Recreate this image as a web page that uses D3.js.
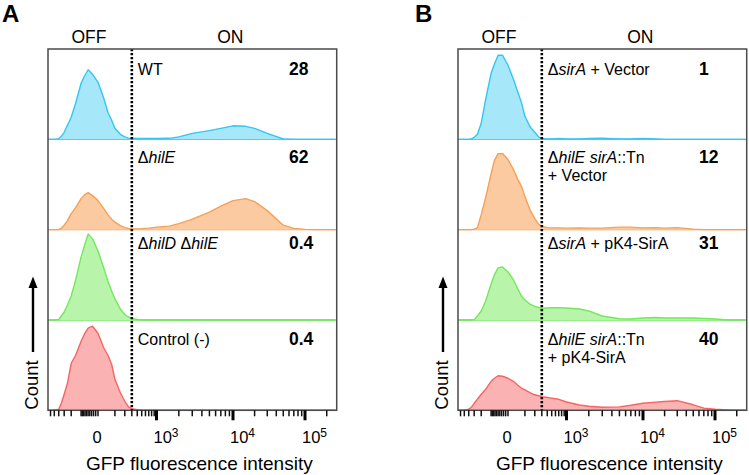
<!DOCTYPE html>
<html><head><meta charset="utf-8">
<script src="https://cdn.jsdelivr.net/npm/d3@7"></script>
<style>
body{margin:0;background:#fff}
svg{display:block}
text{font-family:"Liberation Sans",Arial,Helvetica,sans-serif;fill:#000}
</style>
</head><body>
<svg id="c" width="749" height="475"></svg>
<script>
// ---- DATA ----
// GFP fluorescence values at which histogram heights (counts, arbitrary units) were read
const fluor = [-700,-600,-500,-400,-350,-300,-250,-200,-150,-100,
  -75,-50,-25,0,25,50,75,100,150,200,
  250,300,400,500,700,1000,1500,2000,3000,5000,
  7000,10000,15000,20000,30000,50000,70000,100000,150000,200000,
  260000];

// Panel A
const wt       = [0,0,0,0.5,3,7,14,22,36,56, 63,69.5,65,57,42,27,19,11,5,2.5, 1.2,1,0.8,0.8,0.8,0.8,1,2.5,6,8.7, 11,13.5,13,11,6,0.3,0,0,0,0, 0];
const hilE     = [0,0,0,0,1.5,4.5,9,16,22,31, 34.5,37,34,29,21.5,15,10.5,7.5,4,2, 1.2,1,0.8,1,1.5,2.5,3.5,6,10.5,17.5, 23.5,29,31,28,19,4.5,1.3,0.3,0,0, 0];
const hilDhilE = [0,0,0,0.5,4,8,15,24,40,63, 74,86,81,69,53,39,29,21,11,5.5, 3,1.5,0.5,0,0,0,0,0,0,0, 0,0,0,0,0,0,0,0,0,0, 0];
const ctrl     = [0,0,0,1,7,16,27,47,55,69, 76,82,84,77,63,55,46,31,17.5,9, 3.4,1.5,0.5,0,0,0,0,0,0,0, 0,0,0,0,0,0,0,0,0,0, 0];
// Panel B
const sirVec     = [0,0,0,0,0.3,2,5,16,40,66, 75,84,84,74,60,47,36,23,12,7, 2.5,0.8,0.3,0.3,0.8,0.3,0.3,0.8,1,0.5, 0.3,0.8,0.3,0,0,0,0,0,0,0, 0];
const hilEsirVec = [0,0,0,0,0,0.5,2,15,32,56, 69,76,76,70,60,50,43,33,19,11, 5.5,3.5,2,1.8,1.8,1.5,1.8,1.5,1.5,2.5, 2.5,1.8,2,1.5,2,0.5,0,0,0,0, 0];
const sirPK4     = [0,0,0,0,0,0.3,4,9,19,36, 45,52,53,48,40,31,23.5,20,15.5,13.5, 12.5,11.7,12,12.2,12.3,12,11,9,4,1.2, 1,2,2.5,2,2,2,1.5,1,0,0, 0];
const hilEsirPK4 = [0,0,0,1,3,7,11,16,21,29, 32,34.5,34,32,29,25,22,20.5,17.5,15.5, 14.5,13.6,12.8,12.2,11,8.3,5.3,4,3,3.4, 5,7,8.2,8.8,9.6,5.5,2.2,1,0.3,0, 0];

const panelLetters = ["A","B"];
const panelSeries = [[wt,hilE,hilDhilE,ctrl],[sirVec,hilEsirVec,sirPK4,hilEsirPK4]];
// label lines: segments [text, italic]
const panelLabels = [
  [ [[["WT",0]]],
    [[["Δ",0],["hilE",1]]],
    [[["Δ",0],["hilD",1],[" Δ",0],["hilE",1]]],
    [[["Control (-)",0]]] ],
  [ [[["Δ",0],["sirA",1],[" + Vector",0]]],
    [[["Δ",0],["hilE sirA",1],["::Tn",0]],[["+ Vector",0]]],
    [[["Δ",0],["sirA",1],[" + pK4-SirA",0]]],
    [[["Δ",0],["hilE sirA",1],["::Tn",0]],[["+ pK4-SirA",0]]] ]
];
const panelPercents = [["28","62","0.4","0.4"],["1","12","31","40"]];
const gateValue = 300;
const majorTicks = [1000,10000,100000];
const minorTicks = [-600,-500,-400,-300,-200,-100,-90,-80,-70,-60,-50,-40,-30,-20,-10,0,
  100,200,300,400,500,600,700,800,900,
  2000,3000,4000,5000,6000,7000,8000,9000,
  20000,30000,40000,50000,60000,70000,80000,90000,200000];
const labelValues = [0,1000,10000,100000];
const labelExps = ["","3","4","5"];

// ---- STYLE / LAYOUT ----
const rowFill   = ["#a6e8f9","#fbcaa1","#b8f5aa","#fbb2b2"];
const rowStroke = ["#33c6f2","#f7a055","#72e85e","#f76464"];
const panelLeft = [48,458];
const W = 288.7, boxTop = 49, boxBottom = 410.3;
const rowH = (boxBottom-boxTop)/4;
const labelDy = [26,23.5,19,25];

const svg = d3.select("#c");
const defs = svg.append("defs");

panelLeft.forEach((L,p)=>{
  const x = d3.scaleSymlog().constant(100)
    .domain([0,1e3,1e4,1e5]).range([L+50,L+108.5,L+185,L+257]);
  const clipId = "clip"+p;
  defs.append("clipPath").attr("id",clipId).append("rect")
    .attr("x",L).attr("y",boxTop-20).attr("width",W).attr("height",boxBottom-boxTop+20);
  const g = svg.append("g");
  const gx = x(gateValue);

  panelSeries[p].forEach((vals,r)=>{
    const base = boxTop + rowH*(r+1);
    const y = d3.scaleLinear().domain([0,90.25]).range([base, base-rowH]);
    const pts = vals.map((v,i)=>[fluor[i],v]);
    const gc = g.append("g").attr("clip-path",`url(#${clipId})`);
    gc.append("line").attr("x1",L).attr("x2",L+W).attr("y1",base).attr("y2",base)
      .attr("stroke",rowStroke[r]).attr("stroke-width",1.3);
    gc.append("path").datum(pts)
      .attr("d",d3.area().x(d=>x(d[0])).y0(base).y1(d=>y(d[1])))
      .attr("fill",rowFill[r]);
    gc.append("path").datum(pts)
      .attr("d",d3.line().x(d=>x(d[0])).y(d=>y(d[1])))
      .attr("fill","none").attr("stroke",rowStroke[r]).attr("stroke-width",1.4)
      .attr("stroke-linejoin","round");

    // labels
    const rowTop = boxTop + rowH*r;
    panelLabels[p][r].forEach((line,li)=>{
      const t = g.append("text").attr("x",gx+6).attr("y",rowTop+labelDy[r]+li*18.5)
        .attr("font-size",16);
      line.forEach(seg=>{
        t.append("tspan").text(seg[0]).attr("font-style",seg[1]?"italic":"normal");
      });
    });
    g.append("text").attr("x",L+241).attr("y",rowTop+labelDy[r])
      .attr("font-size",17.5).attr("font-weight","bold").text(panelPercents[p][r]);
  });

  // gate line
  g.append("line").attr("x1",gx).attr("x2",gx).attr("y1",boxTop).attr("y2",boxBottom)
    .attr("stroke","#000").attr("stroke-width",2.6).attr("stroke-dasharray","2.2,1.8");
  // box
  g.append("rect").attr("x",L).attr("y",boxTop).attr("width",W).attr("height",boxBottom-boxTop)
    .attr("fill","none").attr("stroke","#4a4a4a").attr("stroke-width",1.5);

  // ticks
  g.selectAll(".mn").data(minorTicks).enter().append("line")
    .attr("x1",d=>x(d)).attr("x2",d=>x(d)).attr("y1",boxBottom).attr("y2",boxBottom+6)
    .attr("stroke","#111").attr("stroke-width",1.5);
  g.selectAll(".mj").data(majorTicks).enter().append("line")
    .attr("x1",d=>x(d)).attr("x2",d=>x(d)).attr("y1",boxBottom).attr("y2",boxBottom+10)
    .attr("stroke","#000").attr("stroke-width",3);

  labelValues.forEach((v,i)=>{
    if(labelExps[i]===""){
      g.append("text").attr("x",x(v)-1).attr("y",443).attr("text-anchor","middle")
        .attr("font-size",16.5).text("0");
    } else {
      const t = g.append("text").attr("x",x(v)-3).attr("y",443).attr("font-size",16.5);
      t.append("tspan").text("10");
      t.append("tspan").attr("font-size",12).attr("dy",-6.5).text(labelExps[i]);
    }
  });

  // axis title
  g.append("text").attr("x",L+W/2+7).attr("y",470).attr("text-anchor","middle")
    .attr("font-size",19).text("GFP fluorescence intensity");

  // OFF / ON
  g.append("text").attr("x",(L+gx)/2-1).attr("y",43).attr("text-anchor","middle")
    .attr("font-size",17.5).text("OFF");
  g.append("text").attr("x",(gx+L+W)/2-4).attr("y",43).attr("text-anchor","middle")
    .attr("font-size",17.5).text("ON");

  // Count arrow
  const ax = L-15;
  g.append("line").attr("x1",ax).attr("x2",ax).attr("y1",286).attr("y2",352)
    .attr("stroke","#000").attr("stroke-width",2.4);
  g.append("path").attr("d",`M${ax},276.5L${ax-4.5},288L${ax+4.5},288Z`).attr("fill","#000");
  g.append("text").attr("transform",`translate(${L-10.5},385) rotate(-90)`)
    .attr("text-anchor","middle").attr("font-size",18.5).text("Count");

  // panel letter
  svg.append("text").attr("x",p===0?2:415).attr("y",22).attr("font-size",24)
    .attr("font-weight","bold").text(panelLetters[p]);
});
</script>
</body></html>
